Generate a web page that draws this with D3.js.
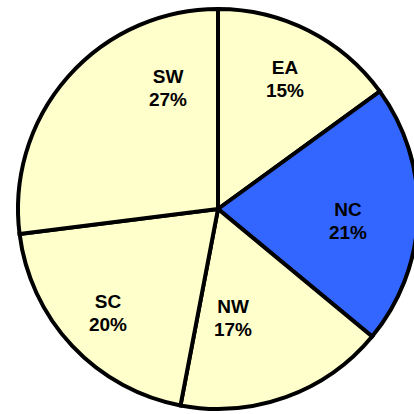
<!DOCTYPE html>
<html>
<head>
<meta charset="utf-8">
<script src="https://cdn.jsdelivr.net/npm/d3@7"></script>
<style>
  body { margin: 0; background: #fff; }
  svg { display: block; }
</style>
</head>
<body>
<div class="chart"></div>
<script>
// data
var regions = ["EA", "NC", "NW", "SC", "SW"];
var shares = [15, 21, 17, 20, 27];
var highlighted = ["NC"];

// label anchor offsets from the pie centre (first line baseline), px
var labelOffsets = [[67, -135], [130, 7], [15, 104], [-110, 99], [-50, -126]];

var svgWidth = 414;
var svgHeight = 414;
var cx = 218, cy = 209, radius = 200;

var svg = d3.select(".chart")
  .append("svg")
  .attr("width", svgWidth)
  .attr("height", svgHeight);

var pieGroup = svg.append("g")
  .attr("transform", `translate(${cx}, ${cy})`);

var pie = d3.pie().sort(null).value(d => d.value);
var arc = d3.arc().innerRadius(0).outerRadius(radius);

var rows = regions.map((r, i) => ({ name: r, value: shares[i], off: labelOffsets[i] }));
var slices = pie(rows);

pieGroup.selectAll("path")
  .data(slices)
  .enter()
  .append("path")
  .attr("d", arc)
  .attr("fill", d => highlighted.includes(d.data.name) ? "#3366ff" : "#ffffcc")
  .attr("stroke", "#000")
  .attr("stroke-width", 4);

var labels = pieGroup.selectAll("text")
  .data(slices)
  .enter()
  .append("text")
  .attr("text-anchor", "middle")
  .style("font", "bold 19px 'Liberation Sans', Arial, sans-serif")
  .attr("fill", "#000");

labels.append("tspan")
  .attr("x", d => d.data.off[0])
  .attr("y", d => d.data.off[1])
  .text(d => d.data.name);

labels.append("tspan")
  .attr("x", d => d.data.off[0])
  .attr("dy", 23)
  .text(d => d.data.value + "%");
</script>
</body>
</html>
